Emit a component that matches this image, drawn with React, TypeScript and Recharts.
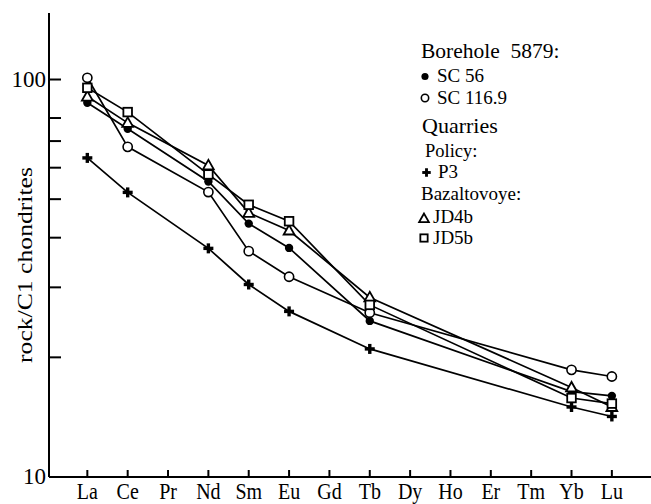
import { LineChart, Line, XAxis, YAxis } from 'recharts';

const ELEMENTS = ['La', 'Ce', 'Pr', 'Nd', 'Sm', 'Eu', 'Gd', 'Tb', 'Dy', 'Ho', 'Er', 'Tm', 'Yb', 'Lu'];
const MEASURED = ['La', 'Ce', 'Nd', 'Sm', 'Eu', 'Tb', 'Yb', 'Lu'];

// rock / C1 chondrite normalised values
const SC56 = [87.4, 75.2, 55.4, 43.4, 37.7, 24.7, 16.4, 16.0];
const SC116_9 = [101, 67.7, 52.1, 37.0, 31.9, 25.9, 18.6, 17.9];
const P3 = [63.5, 52.0, 37.6, 30.5, 26.1, 21.0, 15.0, 14.2];
const JD4B = [90.6, 77.8, 60.8, 46.2, 41.7, 28.3, 16.8, 15.0];
const JD5B = [95.3, 82.8, 57.7, 48.4, 44.0, 27.1, 15.8, 15.3];

const Y_TICKS = [10, 20, 30, 40, 50, 60, 70, 80, 90, 100];
const Y_LABELED = [10, 100];

const data = MEASURED.map((el, i) => ({
  x: ELEMENTS.indexOf(el),
  sc56: SC56[i],
  sc1169: SC116_9[i],
  p3: P3[i],
  jd4b: JD4B[i],
  jd5b: JD5B[i],
}));

const FONT = '"Liberation Serif", "Times New Roman", serif';

type Marker = 'filled' | 'open' | 'plus' | 'triangle' | 'square';

function MarkerShape({ kind, cx, cy, s = 1 }: { kind: Marker; cx: number; cy: number; s?: number }) {
  if (kind === 'filled') return <circle cx={cx} cy={cy} r={4.2 * s} fill="#000" />;
  if (kind === 'open')
    return <circle cx={cx} cy={cy} r={4.6 * s} fill="#fff" stroke="#000" strokeWidth={1.6} />;
  if (kind === 'plus') {
    const a = 5 * s;
    return (
      <g stroke="#000" strokeWidth={3.4 * s}>
        <line x1={cx - a} y1={cy} x2={cx + a} y2={cy} />
        <line x1={cx} y1={cy - a} x2={cx} y2={cy + a} />
      </g>
    );
  }
  if (kind === 'triangle') {
    const w = 5.4 * s;
    return (
      <polygon
        points={`${cx},${cy - 5.5 * s} ${cx - w},${cy + 4 * s} ${cx + w},${cy + 4 * s}`}
        fill="#fff"
        stroke="#000"
        strokeWidth={1.8}
      />
    );
  }
  const h = 4.3 * s;
  return <rect x={cx - h} y={cy - h} width={2 * h} height={2 * h} fill="#fff" stroke="#000" strokeWidth={1.8} />;
}

const dotFor = (kind: Marker) => (p: any) => (
  <MarkerShape key={`${kind}-${p.index}`} kind={kind} cx={p.cx} cy={p.cy} />
);

function YTick({ x, y, payload }: any) {
  const v = payload.value;
  return (
    <g>
      <line x1={x} y1={y} x2={x + 12} y2={y} stroke="#000" strokeWidth={2} />
      {Y_LABELED.includes(v) && (
        <text x={x - 3} y={y + 7} textAnchor="end" style={{ fontFamily: FONT }} fontSize={23} fill="#000">
          {v}
        </text>
      )}
    </g>
  );
}

function XTick({ x, y, payload }: any) {
  return (
    <g>
      <line x1={x} y1={y} x2={x} y2={y - 7} stroke="#000" strokeWidth={2} />
      <text
        transform={`translate(${x},${y + 22}) scale(1,1.15)`}
        textAnchor="middle"
        style={{ fontFamily: FONT }}
        fontSize={20}
        fill="#000"
      >
        {ELEMENTS[payload.value]}
      </text>
    </g>
  );
}

const SERIES: { key: string; kind: Marker }[] = [
  { key: 'p3', kind: 'plus' },
  { key: 'sc1169', kind: 'open' },
  { key: 'sc56', kind: 'filled' },
  { key: 'jd4b', kind: 'triangle' },
  { key: 'jd5b', kind: 'square' },
];

function Legend() {
  return (
    <svg
      width={651}
      height={504}
      style={{ position: 'absolute', left: 0, top: 0, pointerEvents: 'none', fontFamily: FONT }}
      fill="#000"
    >
      <text
        x={32}
        y={265}
        transform="rotate(-90, 32, 265)"
        textAnchor="middle"
        fontSize={20}
        textLength={196}
        lengthAdjust="spacingAndGlyphs"
      >
        rock/C1 chondrites
      </text>
      <text x={421} y={58} fontSize={21.5}>
        Borehole{'\u00A0'} 5879:
      </text>
      <MarkerShape kind="filled" cx={425} cy={76.5} s={0.85} />
      <text x={437} y={82} fontSize={19}>
        SC 56
      </text>
      <MarkerShape kind="open" cx={425} cy={98} s={0.8} />
      <text x={437} y={104} fontSize={19}>
        SC 116.9
      </text>
      <text x={422} y={133} fontSize={22}>
        Quarries
      </text>
      <text x={425} y={157} fontSize={18.5}>
        Policy:
      </text>
      <MarkerShape kind="plus" cx={426.5} cy={172.5} s={0.85} />
      <text x={438} y={178} fontSize={19}>
        P3
      </text>
      <text x={421} y={200} fontSize={19}>
        Bazaltovoye:
      </text>
      <MarkerShape kind="triangle" cx={424} cy={218.5} s={0.9} />
      <text x={433} y={223} fontSize={19}>
        JD4b
      </text>
      <MarkerShape kind="square" cx={424} cy={238} s={0.85} />
      <text x={433} y={244} fontSize={19}>
        JD5b
      </text>
    </svg>
  );
}

export default function App() {
  return (
    <div style={{ position: 'absolute', left: 0, top: 0, width: 651, height: 504, background: '#fff' }}>
      <LineChart width={651} height={504} data={data} margin={{ top: 13, right: 0, left: 0, bottom: 0 }}>
        <XAxis
          dataKey="x"
          type="number"
          domain={[-0.95, 13.97]}
          ticks={ELEMENTS.map((_, i) => i)}
          height={27}
          tickSize={0}
          tickMargin={0}
          tickLine={false}
          axisLine={{ stroke: '#000', strokeWidth: 2 }}
          tick={<XTick />}
          allowDataOverflow
        />
        <YAxis
          scale="log"
          domain={[10, 147]}
          ticks={Y_TICKS}
          width={49}
          tickSize={0}
          tickMargin={0}
          tickLine={false}
          axisLine={{ stroke: '#000', strokeWidth: 2 }}
          tick={<YTick />}
          allowDataOverflow
        />
        {SERIES.map((s) => (
          <Line
            key={s.key}
            dataKey={s.key}
            type="linear"
            stroke="#000"
            strokeWidth={1.7}
            dot={dotFor(s.kind)}
            activeDot={false}
            isAnimationActive={false}
          />
        ))}
      </LineChart>
      <Legend />
    </div>
  );
}
